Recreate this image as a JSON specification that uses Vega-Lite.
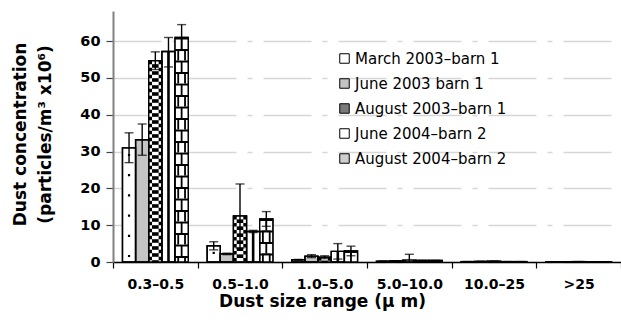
{
  "$schema": "https://vega.github.io/schema/vega-lite/v6.json",
  "autosize": {"type": "none"},
  "padding": {"left": 113, "top": 11, "right": 0, "bottom": 64},
  "width": 508,
  "height": 251,
  "background": "white",
  "config": {
    "font": "DejaVu Sans",
    "view": {"stroke": null}
  },
  "data": {
    "values": [
      {"size": "0.3–0.5", "series": "March 2003–barn 1", "value": 31.0, "lo": 27.0, "hi": 35.1},
      {"size": "0.3–0.5", "series": "June 2003 barn 1", "value": 33.2, "lo": 29.0, "hi": 37.5},
      {"size": "0.3–0.5", "series": "August 2003–barn 1", "value": 54.7, "lo": 52.3, "hi": 57.1},
      {"size": "0.3–0.5", "series": "June 2004–barn 2", "value": 57.2, "lo": 53.0, "hi": 61.0},
      {"size": "0.3–0.5", "series": "August 2004–barn 2", "value": 61.0, "lo": 57.5, "hi": 64.5},
      {"size": "0.5–1.0", "series": "March 2003–barn 1", "value": 4.4, "lo": 3.3, "hi": 5.5},
      {"size": "0.5–1.0", "series": "June 2003 barn 1", "value": 2.2, "lo": 2.0, "hi": 2.4},
      {"size": "0.5–1.0", "series": "August 2003–barn 1", "value": 12.5, "lo": 3.8, "hi": 21.2},
      {"size": "0.5–1.0", "series": "June 2004–barn 2", "value": 8.3, "lo": 8.0, "hi": 8.6},
      {"size": "0.5–1.0", "series": "August 2004–barn 2", "value": 11.7, "lo": 9.7, "hi": 13.7},
      {"size": "1.0–5.0", "series": "March 2003–barn 1", "value": 0.6, "lo": 0.5, "hi": 0.7},
      {"size": "1.0–5.0", "series": "June 2003 barn 1", "value": 1.6, "lo": 1.2, "hi": 2.0},
      {"size": "1.0–5.0", "series": "August 2003–barn 1", "value": 1.3, "lo": 0.9, "hi": 1.7},
      {"size": "1.0–5.0", "series": "June 2004–barn 2", "value": 2.9, "lo": 0.8, "hi": 5.0},
      {"size": "1.0–5.0", "series": "August 2004–barn 2", "value": 3.0, "lo": 1.7, "hi": 4.3},
      {"size": "5.0–10.0", "series": "March 2003–barn 1", "value": 0.2, "lo": 0.2, "hi": 0.2},
      {"size": "5.0–10.0", "series": "June 2003 barn 1", "value": 0.3, "lo": 0.3, "hi": 0.3},
      {"size": "5.0–10.0", "series": "August 2003–barn 1", "value": 0.5, "lo": 0.0, "hi": 2.1},
      {"size": "5.0–10.0", "series": "June 2004–barn 2", "value": 0.4, "lo": 0.4, "hi": 0.4},
      {"size": "5.0–10.0", "series": "August 2004–barn 2", "value": 0.4, "lo": 0.4, "hi": 0.4},
      {"size": "10.0–25", "series": "March 2003–barn 1", "value": 0.1, "lo": 0.1, "hi": 0.1},
      {"size": "10.0–25", "series": "June 2003 barn 1", "value": 0.15, "lo": 0.15, "hi": 0.15},
      {"size": "10.0–25", "series": "August 2003–barn 1", "value": 0.2, "lo": 0.2, "hi": 0.2},
      {"size": "10.0–25", "series": "June 2004–barn 2", "value": 0.1, "lo": 0.1, "hi": 0.1},
      {"size": "10.0–25", "series": "August 2004–barn 2", "value": 0.1, "lo": 0.1, "hi": 0.1},
      {"size": ">25", "series": "March 2003–barn 1", "value": 0.05, "lo": 0.05, "hi": 0.05},
      {"size": ">25", "series": "June 2003 barn 1", "value": 0.05, "lo": 0.05, "hi": 0.05},
      {"size": ">25", "series": "August 2003–barn 1", "value": 0.1, "lo": 0.1, "hi": 0.1},
      {"size": ">25", "series": "June 2004–barn 2", "value": 0.05, "lo": 0.05, "hi": 0.05},
      {"size": ">25", "series": "August 2004–barn 2", "value": 0.05, "lo": 0.05, "hi": 0.05}
    ]
  },
  "encoding": {
    "x": {
      "field": "size", "type": "nominal", "sort": null,
      "scale": {"paddingInner": 0, "paddingOuter": 0},
      "axis": {
        "title": "Dust size range (μ m)",
        "labelAngle": 0, "labelFontSize": 14, "labelFontWeight": "bold", "labelColor": "black",
        "labelPadding": 9,
        "tickBand": "extent", "tickSize": 6, "tickColor": "black", "tickWidth": 1.2,
        "domainColor": "black", "domainWidth": 1.5,
        "titleFontSize": 17, "titleFontWeight": "bold", "titleColor": "black",
        "titleX": 209, "titleY": 39.5, "titleBaseline": "middle", "titleAlign": "center"
      }
    },
    "xOffset": {
      "field": "series", "type": "nominal",
      "sort": ["March 2003–barn 1", "June 2003 barn 1", "August 2003–barn 1", "June 2004–barn 2", "August 2004–barn 2"],
      "scale": {"paddingOuter": 0.72, "paddingInner": 0}
    },
    "y": {"field": "value", "type": "quantitative"}
  },
  "layer": [
    {
      "mark": {"type": "bar", "stroke": "black", "strokeWidth": 1.4},
      "encoding": {
        "y": {
          "field": "value", "type": "quantitative",
          "scale": {"domain": [0, 68.2], "nice": false},
          "axis": {
            "title": ["Dust concentration", "(particles/m³ x10⁶)"],
            "values": [0, 10, 20, 30, 40, 50, 60],
            "labelFontSize": 14.5, "labelFontWeight": "bold", "labelColor": "black", "labelPadding": 6,
            "tickSize": 7, "tickColor": "#444", "tickWidth": 1.2,
            "domainColor": "#808080", "domainWidth": 2,
            "grid": true, "gridColor": "#d6d6d6", "gridWidth": 1.5, "gridDash": [48, 11, 5, 11],
            "titleFontSize": 17, "titleFontWeight": "bold", "titleColor": "black",
            "titleLineHeight": 25, "titleBaseline": "middle", "titleAlign": "center",
            "titleX": -93, "titleY": 123
          }
        },
        "fill": {
          "field": "series", "type": "nominal",
          "sort": ["March 2003–barn 1", "June 2003 barn 1", "August 2003–barn 1", "June 2004–barn 2", "August 2004–barn 2"],
          "scale": {"range": ["#ffffff", "#c4c4c4", "#7a7a7a", "#ffffff", "#cfcfcf"]},
          "legend": {
            "title": null, "orient": "none", "legendX": 224, "legendY": 40,
            "symbolType": "square", "symbolSize": 90, "symbolStrokeColor": "black", "symbolStrokeWidth": 1,
            "labelFont": "DejaVu Sans", "labelFontSize": 15, "labelColor": "black", "labelOffset": 3, "rowPadding": 9
          }
        }
      }
    },
    {
      "transform": [{"filter": "datum.series === 'March 2003–barn 1'"}],
      "mark": {"type": "rule", "color": "black", "strokeWidth": 2.2, "strokeDash": [2.2, 18], "strokeDashOffset": -6},
      "encoding": {"y2": {"datum": 0}}
    },
    {
      "transform": [{"filter": "datum.series === 'August 2003–barn 1'"}],
      "mark": {"type": "rule", "color": "white", "strokeWidth": 13},
      "encoding": {"y2": {"datum": 0}}
    },
    {
      "transform": [{"filter": "datum.series === 'August 2003–barn 1'"}],
      "mark": {"type": "rule", "color": "black", "strokeWidth": 13, "strokeDash": [3.5, 3.5]},
      "encoding": {"y2": {"datum": 0}}
    },
    {
      "transform": [{"filter": "datum.series === 'August 2003–barn 1'"}],
      "mark": {"type": "rule", "color": "white", "strokeWidth": 6.6, "strokeDash": [3.5, 3.5]},
      "encoding": {"y2": {"datum": 0}}
    },
    {
      "transform": [{"filter": "datum.series === 'August 2003–barn 1'"}],
      "mark": {"type": "rule", "color": "black", "strokeWidth": 6.6, "strokeDash": [3.5, 3.5], "strokeDashOffset": 3.5},
      "encoding": {"y2": {"datum": 0}}
    },
    {
      "transform": [{"filter": "datum.series === 'June 2004–barn 2'"}],
      "mark": {"type": "rule", "color": "black", "strokeWidth": 2.6},
      "encoding": {"y2": {"datum": 0}}
    },
    {
      "transform": [{"filter": "datum.series === 'August 2004–barn 2'"}],
      "mark": {"type": "rule", "color": "white", "strokeWidth": 13},
      "encoding": {"y2": {"datum": 0}}
    },
    {
      "transform": [{"filter": "datum.series === 'August 2004–barn 2'"}],
      "mark": {"type": "rule", "color": "black", "strokeWidth": 13, "strokeDash": [2, 9.5]},
      "encoding": {"y2": {"datum": 0}}
    },
    {
      "transform": [{"filter": "datum.series === 'August 2004–barn 2'"}],
      "mark": {"type": "rule", "color": "black", "strokeWidth": 1.8, "strokeDash": [11.5, 11.5]},
      "encoding": {"y2": {"datum": 0}}
    },
    {
      "transform": [{"filter": "datum.series === 'August 2004–barn 2'"}],
      "mark": {"type": "rule", "color": "black", "strokeWidth": 8.6, "strokeDash": [11.5, 11.5], "strokeDashOffset": 11.5},
      "encoding": {"y2": {"datum": 0}}
    },
    {
      "transform": [{"filter": "datum.series === 'August 2004–barn 2'"}],
      "mark": {"type": "rule", "color": "white", "strokeWidth": 5, "strokeDash": [9.5, 13.5], "strokeDashOffset": 9.5},
      "encoding": {"y2": {"datum": 0}}
    },
    {
      "mark": {"type": "bar", "fill": "transparent", "stroke": "black", "strokeWidth": 1.4}
    },
    {
      "mark": {"type": "rule", "color": "black", "strokeWidth": 1.4},
      "encoding": {
        "y": {"field": "lo", "type": "quantitative"},
        "y2": {"field": "hi"}
      }
    },
    {
      "mark": {"type": "tick", "color": "black", "thickness": 1.4, "size": 9},
      "encoding": {"y": {"field": "hi", "type": "quantitative"}}
    },
    {
      "mark": {"type": "tick", "color": "black", "thickness": 1.4, "size": 9},
      "encoding": {"y": {"field": "lo", "type": "quantitative"}}
    }
  ]
}
